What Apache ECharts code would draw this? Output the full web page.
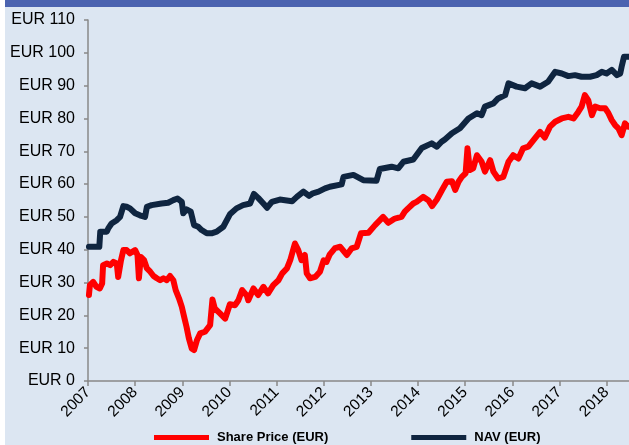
<!DOCTYPE html>
<html>
<head>
<meta charset="utf-8">
<script src="https://cdn.jsdelivr.net/npm/echarts@6/dist/echarts.min.js"></script>
<style>
html,body{margin:0;padding:0;background:#ffffff;}
#bg{position:absolute;left:5px;top:0;width:624px;height:445px;background:#DCE6F2;}
#bar{position:absolute;left:5px;top:0;width:624px;height:7px;background:#4B63B0;}
#chart{position:absolute;left:0;top:0;width:629px;height:445px;}
</style>
</head>
<body>
<div id="bg"></div>
<div id="bar"></div>
<div id="chart"></div>
<script>
// Year ticks
const yearTicks = [2007,2008,2009,2010,2011,2012,2013,2014,2015,2016,2017,2018];
const seriesNames = ['Share Price (EUR)', 'NAV (EUR)'];

// Share price (EUR): decimal-year dates and values
const priceDates = [2007.02,2007.04,2007.11,2007.18,2007.25,2007.30,2007.32,2007.40,2007.47,2007.54,2007.61,2007.64,2007.70,2007.75,2007.82,2007.89,
2008.00,2008.05,2008.08,2008.12,2008.19,2008.25,2008.32,2008.39,2008.46,2008.53,2008.60,2008.67,2008.74,2008.81,2008.86,2008.93,2008.99,
2009.04,2009.09,2009.14,2009.20,2009.25,2009.31,2009.38,2009.48,2009.59,2009.64,2009.69,2009.80,2009.91,
2010.01,2010.12,2010.19,2010.27,2010.37,2010.40,2010.51,2010.61,2010.72,2010.82,2010.93,
2011.04,2011.12,2011.22,2011.29,2011.34,2011.39,2011.46,2011.53,2011.60,2011.64,2011.71,2011.82,2011.92,
2012.00,2012.06,2012.13,2012.24,2012.35,2012.49,2012.59,2012.70,2012.79,2012.95,
2013.09,2013.26,2013.37,2013.51,2013.65,2013.72,2013.79,2013.90,2013.97,
2014.11,2014.22,2014.30,2014.40,2014.51,2014.61,2014.72,2014.79,2014.86,2014.93,
2015.01,2015.05,2015.10,2015.17,2015.25,2015.35,2015.42,2015.53,2015.60,2015.70,2015.81,2015.92,
2016.02,2016.13,2016.23,2016.34,2016.45,2016.59,2016.69,2016.80,2016.91,
2017.05,2017.19,2017.30,2017.40,2017.47,2017.54,2017.61,2017.69,2017.76,2017.86,2017.97,
2018.04,2018.11,2018.18,2018.25,2018.32,2018.39,2018.46];
const priceValues = [26.2,29.2,30.2,28.7,28.2,29.7,35.3,35.8,35.3,36.3,35.8,31.7,36.8,39.9,39.9,38.9,
39.9,38.4,31.3,37.8,36.8,34.3,33.3,32.0,31.3,30.7,31.3,30.7,32.0,30.7,27.7,25.2,22.6,
19.5,16.5,13.0,9.9,9.4,12.4,14.5,15.0,17.0,24.8,22.1,20.6,19.0,
23.4,23.1,24.6,27.7,26.0,24.6,28.2,26.2,28.7,26.7,29.2,
30.7,32.8,34.3,36.8,39.4,41.9,39.9,36.8,38.4,32.8,31.3,31.7,33.3,
36.8,36.3,38.6,40.5,40.9,38.4,40.4,40.9,45.0,45.2,
47.5,50.0,48.2,49.5,50.0,51.6,52.6,54.1,54.6,
56.1,55.1,53.3,55.3,58.2,60.7,60.9,58.2,60.7,62.2,
63.3,70.9,64.3,64.8,68.8,66.8,63.8,67.3,63.8,61.7,62.2,66.8,
68.8,67.8,70.9,71.4,73.4,75.9,74.2,77.5,79.0,
80.0,80.5,80.0,82.0,83.6,87.1,85.6,81.0,83.6,83.1,83.1,
81.6,79.5,78.0,77.0,74.9,78.5,77.5];

// NAV (EUR): decimal-year dates and values
const navDates = [2007.02,2007.24,2007.26,2007.40,2007.43,2007.50,2007.61,2007.68,2007.75,2007.82,2007.89,
2008.00,2008.10,2008.21,2008.25,2008.35,2008.56,2008.70,2008.81,2008.90,2008.99,
2009.02,2009.09,2009.18,2009.25,2009.34,2009.41,2009.52,2009.62,2009.73,2009.87,
2010.01,2010.15,2010.29,2010.44,2010.52,2010.61,2010.72,2010.80,2010.90,
2011.07,2011.18,2011.33,2011.43,2011.57,2011.69,2011.77,2011.89,
2012.03,2012.13,2012.38,2012.42,2012.63,2012.84,
2013.12,2013.19,2013.44,2013.58,2013.69,2013.90,
2014.08,2014.29,2014.40,2014.50,2014.57,2014.72,2014.89,
2015.07,2015.25,2015.35,2015.42,2015.60,2015.70,2015.85,2015.92,
2016.09,2016.27,2016.41,2016.59,2016.76,2016.91,
2017.05,2017.19,2017.33,2017.47,2017.65,2017.79,2017.90,
2018.00,2018.11,2018.22,2018.29,2018.32,2018.37,2018.46];
const navValues = [40.9,40.9,45.5,45.5,46.5,48.0,49.0,50.0,53.3,53.1,52.6,
51.1,50.5,50.0,53.1,53.6,54.1,54.3,55.1,55.6,54.6,
51.1,52.3,51.6,47.5,47.0,46.0,45.0,45.0,45.5,47.0,
50.8,52.6,53.6,54.1,57.0,55.8,54.1,52.8,54.6,
55.3,55.1,54.8,56.1,57.7,56.4,57.2,57.7,
58.7,59.2,59.9,62.2,62.8,61.2,
61.0,64.6,65.3,64.8,66.8,67.5,
71.0,72.4,71.4,72.9,73.6,75.5,77.0,
80.0,81.6,81.0,83.6,84.6,86.1,87.1,90.7,
89.7,89.2,90.7,89.7,91.2,94.2,
93.7,92.9,93.2,92.7,92.7,93.2,94.2,
93.7,94.8,93.2,93.7,95.8,98.8,98.8];

const pair = (xs, ys) => xs.map((x, i) => [x, ys[i]]);
const FONT = 'Liberation Sans';

const chart = echarts.init(document.getElementById('chart'), null, {renderer: 'canvas'});
chart.setOption({
  animation: false,
  backgroundColor: 'transparent',
  textStyle: {fontFamily: FONT},
  grid: {left: 88, right: 0, top: 20, bottom: 64, containLabel: false},
  xAxis: {
    type: 'value',
    min: yearTicks[0],
    max: 2018.476,
    interval: 1,
    splitLine: {show: false},
    axisLine: {show: true, lineStyle: {color: '#888888', width: 1.5}},
    axisTick: {show: true, inside: false, length: 5, lineStyle: {color: '#888888', width: 1.5}},
    axisLabel: {
      rotate: 45, margin: 9, fontSize: 15.5, color: '#000', fontFamily: FONT,
      showMaxLabel: false,
      formatter: v => (yearTicks.indexOf(v) >= 0 ? String(v) : '')
    }
  },
  yAxis: {
    type: 'value',
    min: 0, max: 110, interval: 10,
    splitLine: {show: false},
    axisLine: {show: true, lineStyle: {color: '#888888', width: 1.5}},
    axisTick: {show: true, inside: false, length: 4, lineStyle: {color: '#888888', width: 1.5}},
    axisLabel: {margin: 13, fontSize: 16, color: '#000', fontFamily: FONT, formatter: 'EUR {value}'}
  },
  legend: {
    data: seriesNames,
    left: 154, top: 431, padding: 0,
    icon: 'rect', itemWidth: 55, itemHeight: 5, itemGap: 83,
    textStyle: {fontSize: 13, fontWeight: 'bold', color: '#000', fontFamily: FONT, padding: [0,0,0,3]}
  },
  series: [
    {name: seriesNames[0], type: 'line', showSymbol: false, symbol: 'none',
     data: pair(priceDates, priceValues), color: '#FF0000',
     lineStyle: {color: '#FF0000', width: 6, cap: 'round', join: 'round'}},
    {name: seriesNames[1], type: 'line', showSymbol: false, symbol: 'none',
     data: pair(navDates, navValues), color: '#0F2540',
     lineStyle: {color: '#0F2540', width: 6, cap: 'round', join: 'round'}}
  ]
});
</script>
</body>
</html>
